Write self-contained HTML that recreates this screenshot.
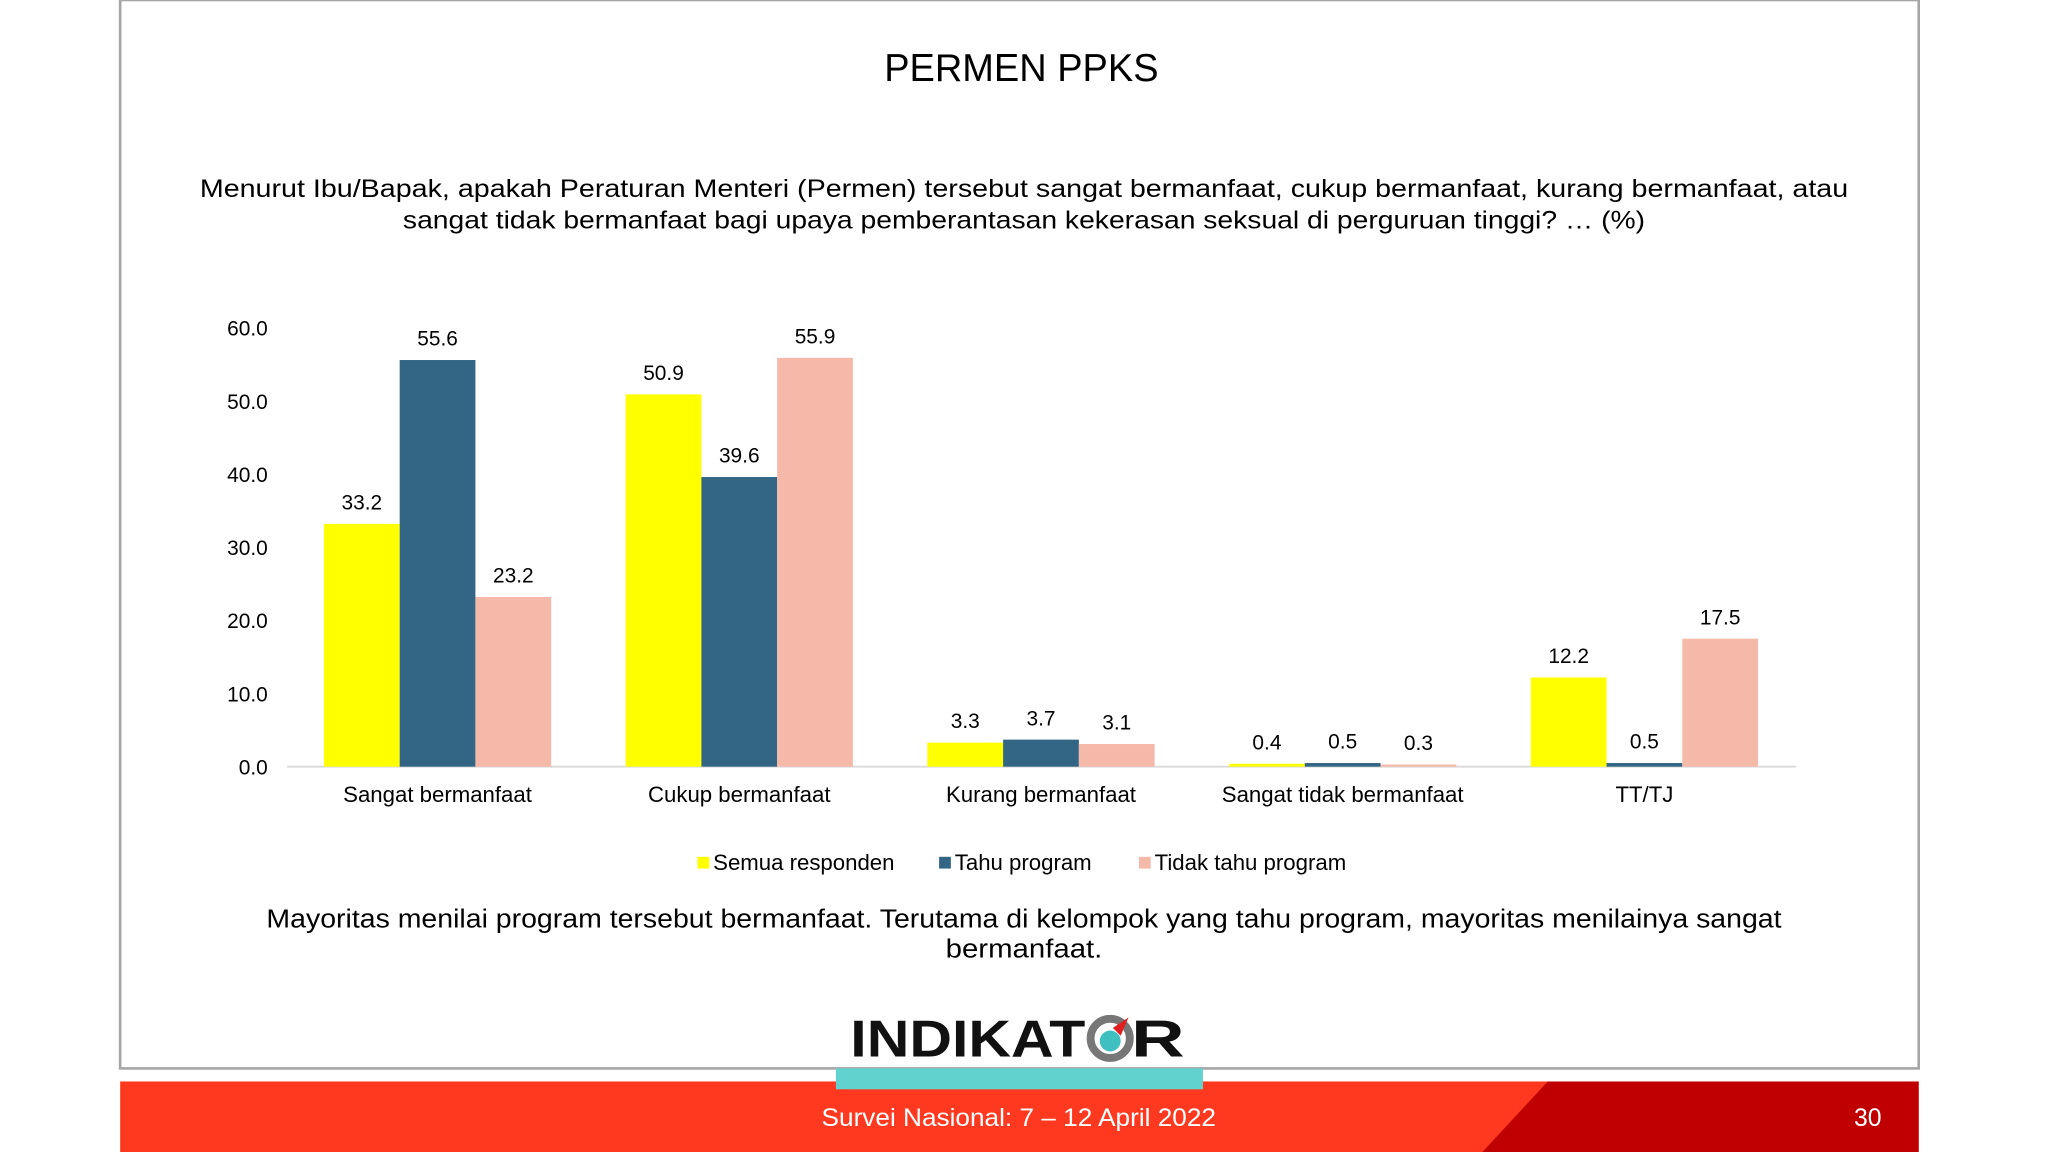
<!DOCTYPE html>
<html><head><meta charset="utf-8"><style>
html,body{margin:0;padding:0;background:#fff;}
svg{display:block;font-family:"Liberation Sans",sans-serif;}
</style></head><body>
<svg id="chart" width="2048" height="1152" viewBox="0 0 1568 882" xmlns="http://www.w3.org/2000/svg">
<rect x="92" y="0" width="1377" height="818" fill="#fff" stroke="#a6a6a6" stroke-width="2"/>
<text x="782" y="62" text-anchor="middle" font-size="30" fill="#000" textLength="210" lengthAdjust="spacingAndGlyphs">PERMEN PPKS</text>
<text x="784" y="151" text-anchor="middle" font-size="19" fill="#000" textLength="1262" lengthAdjust="spacingAndGlyphs">Menurut Ibu/Bapak, apakah Peraturan Menteri (Permen) tersebut sangat bermanfaat, cukup bermanfaat, kurang bermanfaat, atau</text>
<text x="784" y="175" text-anchor="middle" font-size="19" fill="#000" textLength="951" lengthAdjust="spacingAndGlyphs">sangat tidak bermanfaat bagi upaya pemberantasan kekerasan seksual di perguruan tinggi? … (%)</text>
<g id="axes"></g>
<g id="bars"></g>
<g id="legend"></g>
<text x="784" y="710" text-anchor="middle" font-size="19.5" fill="#000" textLength="1160" lengthAdjust="spacingAndGlyphs">Mayoritas menilai program tersebut bermanfaat. Terutama di kelompok yang tahu program, mayoritas menilainya sangat</text>
<text x="784" y="733" text-anchor="middle" font-size="19.5" fill="#000" textLength="120" lengthAdjust="spacingAndGlyphs">bermanfaat.</text>
<g>
<text x="651" y="809" font-size="40" font-weight="bold" fill="#111" textLength="180" lengthAdjust="spacingAndGlyphs">INDIKAT</text>
<circle cx="850" cy="795" r="15" fill="none" stroke="#777" stroke-width="6"/>
<circle cx="850" cy="797" r="8" fill="#3fbfbf"/>
<path d="M852 787 L864 779 L858 793 Z" fill="#e02020"/>
<text x="866" y="809" font-size="40" font-weight="bold" fill="#111" textLength="41" lengthAdjust="spacingAndGlyphs">R</text>
</g>
<rect x="92" y="828" width="1377" height="54" fill="#ff3820"/>
<polygon points="1185,828 1469,828 1469,882 1135,882" fill="#c00000"/>
<rect x="640" y="818" width="281" height="16" fill="#62d2cf"/>
<text x="780" y="862" text-anchor="middle" font-size="19" fill="#fff" textLength="302" lengthAdjust="spacingAndGlyphs">Survei Nasional: 7 – 12 April 2022</text>
<text x="1430" y="862" text-anchor="middle" font-size="19" fill="#fff">30</text>
</svg>
<script>
const categories = ["Sangat bermanfaat","Cukup bermanfaat","Kurang bermanfaat","Sangat tidak bermanfaat","TT/TJ"];
const semua = [33.2,50.9,3.3,0.4,12.2];
const tahu = [55.6,39.6,3.7,0.5,0.5];
const tidak = [23.2,55.9,3.1,0.3,17.5];
const seriesNames = ["Semua responden","Tahu program","Tidak tahu program"];
const yTicks = [0,10,20,30,40,50,60];

const NS="http://www.w3.org/2000/svg";
const colors=["#ffff00","#336685","#f4b9a8"];
const y0=587, y60=251;
function yS(v){return y0-(v/60)*(y0-y60);}
function xC(i){return 335+i*231;}
const bw=58;
function mk(tag,attrs,parent,txt){const e=document.createElementNS(NS,tag);for(const k in attrs)e.setAttribute(k,attrs[k]);if(txt!==undefined)e.textContent=txt;parent.appendChild(e);return e;}
const axes=document.getElementById('axes');
yTicks.forEach(t=>{
  const e=mk('text',{x:205,y:yS(t)+6,'text-anchor':'end','font-size':16,fill:'#000'},axes,t.toFixed(1));
  
  
});
const base=mk('line',{x1:220,x2:1375,y1:y0,y2:y0,stroke:'#d9d9d9','stroke-width':1.5},axes);


categories.forEach((c,i)=>{
  const e=mk('text',{x:xC(i),y:614,'text-anchor':'middle','font-size':17,fill:'#000'},axes,c);
  
  
});
const bars=document.getElementById('bars');
[semua,tahu,tidak].forEach((arr,s)=>{
  arr.forEach((v,i)=>{
    const x=xC(i)-1.5*bw+s*bw;
    const r=mk('rect',{x:x,y:yS(v),width:bw,height:y0-yS(v),fill:colors[s]},bars);
    
    
    const l=mk('text',{x:x+bw/2,y:yS(v)-11,'text-anchor':'middle','font-size':16,fill:'#000'},bars,v.toFixed(1));
    
    
  });
});
const legend=document.getElementById('legend');
const lx=[534,719,872];
seriesNames.forEach((n,s)=>{
  const g=mk('g',{},legend);
  
  
  mk('rect',{x:lx[s],y:656,width:9,height:9,fill:colors[s]},g);
  mk('text',{x:lx[s]+12,y:666,'font-size':17,fill:'#000'},g,n);
});
</script>
</body></html>
